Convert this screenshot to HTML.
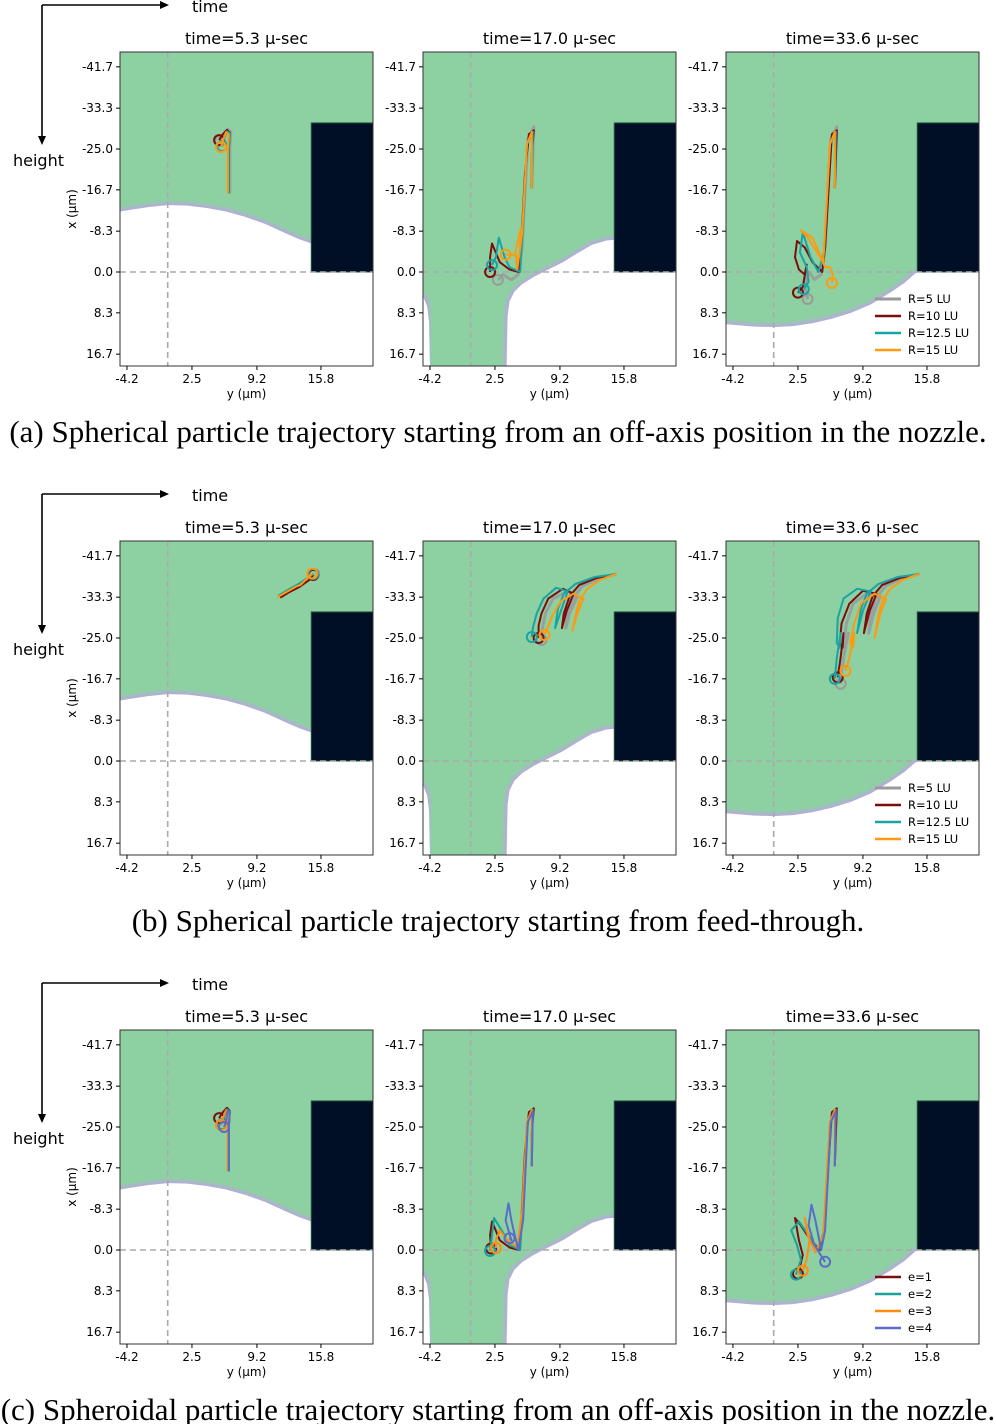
<!DOCTYPE html>
<html><head><meta charset="utf-8">
<style>
html,body{margin:0;padding:0;background:#fff;}
svg{display:block;}
text{font-family:"DejaVu Sans","Liberation Sans",sans-serif;}
.cap{font-family:"Liberation Serif",serif;font-size:31px;}
</style></head>
<body>
<svg id="fig" width="996" height="1424" viewBox="0 0 996 1424" xmlns="http://www.w3.org/2000/svg">
<defs><filter id="bl" x="-5%" y="-5%" width="110%" height="110%"><feGaussianBlur stdDeviation="1.6"/></filter></defs>
</svg>
<script>
// ---------- data ----------
const yTicks = [-41.7,-33.3,-25.0,-16.7,-8.3,0.0,8.3,16.7];
const xTicks = [-4.2,2.5,9.2,15.8];
const titles = ["time=5.3 \u03bc-sec","time=17.0 \u03bc-sec","time=33.6 \u03bc-sec"];
const captions = ["(a) Spherical particle trajectory starting from an off-axis position in the nozzle.",
 "(b) Spherical particle trajectory starting from feed-through.",
 "(c) Spheroidal particle trajectory starting from an off-axis position in the nozzle."];
const legendA = ["R=5 LU","R=10 LU","R=12.5 LU","R=15 LU"];
const legendC = ["e=1","e=2","e=3","e=4"];
const colorsA = ["#9a9a9a","#7a0d0d","#1aa3a3","#ff9a10"];
const colorsC = ["#7a0d0d","#17a39a","#ff8c10","#5a6cc8"];
// fluid boundaries (white region) in [y, x] micrometres
const wall1 = [[-4.9,-12.3],[-2,-13.2],[0,-13.6],[2,-13.5],[4,-13],[6,-12.3],[8,-11.2],[10,-9.8],[12,-8],[13.5,-6.7],[14.8,-5.8],[14.8,0],[21.3,0],[21.3,19.6],[-4.9,19.6]];
const wall2 = [[15.2,-6.6],[14,-6.4],[12.5,-5.5],[11,-3.8],[9.5,-2],[8,-0.5],[6.5,1],[5.3,2.5],[4.5,4],[4,6],[3.8,9],[3.7,19.6],[21.3,19.6],[21.3,0],[15.2,0]];
const wall2b = [[-4.9,5],[-4.5,7],[-4.3,10],[-4.2,19.6],[-4.9,19.6]];
const wall3 = [[-4.9,10.6],[-2,11.1],[0,11.2],[2,11],[4,10.4],[6,9.5],[8,8.3],[10,6.6],[12,4.2],[13.5,2.2],[14.6,0.3],[15,0],[21.3,0],[21.3,19.6],[-4.9,19.6]];
// trajectories row a
const a1 = [
 [[6.4,-16],[6.4,-25],[6.5,-28.5],[6.2,-29],[5.8,-27.8],[5.4,-26.6]],
 [[6.3,-16],[6.3,-25],[6.4,-28.3],[6.1,-28.9],[5.6,-27.8],[5.3,-26.8]],
 [[6.3,-16],[6.3,-25],[6.4,-28.2],[6.1,-28.6],[5.8,-27.0],[5.6,-25.6]],
 [[6.2,-16],[6.2,-25],[6.3,-28.0],[6.0,-28.4],[5.7,-26.8],[5.5,-25.4]]];
const a2 = [
 [[6.3,-17],[6.5,-29.5],[5.9,-27],[5.3,-5],[4.9,0.5],[4.2,1.6],[3.3,0.5],[2.8,1.6]],
 [[6.3,-17],[6.3,-24],[6.5,-28.8],[6.0,-28],[5.6,-20],[5.2,-5],[5.0,0],[4,-0.5],[3,-2],[2.2,-5.8],[2.0,-3],[2.0,0]],
 [[6.3,-17],[6.4,-28.5],[5.8,-26],[5.4,-10],[5.1,0],[4,-1],[3.5,-3],[2.9,-7],[2.6,-3],[2.2,-1.4]],
 [[6.3,-17],[6.3,-28.5],[5.8,-26],[5.3,-8],[4.8,-0.5],[4.6,-4],[5.2,-9],[5.0,-3],[4.3,-3.5],[3.6,-3.5]]];
const a3 = [
 [[6.3,-17],[6.5,-29.5],[5.9,-27],[5.3,-5],[4.9,0.5],[4.2,1.5],[3.6,0],[3.2,3],[3.5,5.5]],
 [[6.3,-17],[6.5,-28.8],[6.0,-28],[5.3,-5],[5,0],[4,-2],[3.2,-5],[2.4,-6.3],[2.2,-3],[2.6,-0.5],[3.2,0.5],[3.4,-1.5],[3.0,3],[2.5,4.2]],
 [[6.3,-17],[6.4,-28.5],[5.8,-26],[5.2,-4],[4.6,0],[3.8,-3],[3.0,-8],[2.7,-4],[3.4,-1],[3.6,2],[3.1,3.5]],
 [[6.3,-17],[6.3,-28.5],[5.8,-26],[5.1,-2],[4,-7],[2.8,-8.5],[3.5,-7],[4.8,-3],[5.3,-1],[5.8,-1],[6.1,0.5],[6.0,2.2]]];
// trajectories row b
const b1 = [
 [[11.5,-33.4],[12.5,-34.5],[13.5,-35.6],[14.5,-37],[15.1,-38]],
 [[11.6,-33.2],[12.6,-34.4],[13.6,-35.4],[14.6,-36.8],[15.0,-37.8]],
 [[11.4,-33.6],[12.4,-34.8],[13.4,-35.9],[14.4,-37.2],[15.0,-38]],
 [[11.3,-33.3],[12.3,-34.4],[13.3,-35.5],[13.7,-35.8],[14.9,-38.1]]];
const b2 = [
 [[15,-38],[13,-37],[11.5,-35.5],[10.5,-33],[10,-30],[9.8,-27],[10.2,-30],[11,-33.5],[10,-34.5],[8.5,-33],[7.7,-30],[7.4,-27],[7.3,-24.6]],
 [[15,-38],[13,-37.2],[11.2,-35.8],[10.2,-33.5],[9.6,-30],[9.4,-27],[9.9,-30.5],[10.6,-34],[9.5,-35],[8,-33],[7.3,-30],[7.0,-27.5],[7.0,-25]],
 [[15,-38],[12.8,-37.4],[10.8,-36],[9.6,-34],[9.0,-31],[8.7,-27],[9.3,-30.5],[10,-34.5],[8.8,-35.2],[7.5,-33],[6.8,-30],[6.4,-27],[6.3,-25.2]],
 [[15,-38],[13.3,-36.8],[12,-35],[11.2,-32.5],[10.8,-29.5],[10.5,-26.5],[11,-30],[11.6,-33],[10.6,-34],[9.3,-32.5],[8.4,-29.5],[7.9,-27],[7.6,-25.6]]];
const b3 = [
 [[15,-38],[13,-37],[11.5,-35.5],[10.5,-33],[10,-30],[9.8,-26],[10.3,-30],[11,-33.5],[9.6,-34],[8.2,-32],[7.5,-28],[7.2,-24],[7.4,-23],[7.7,-26],[7.3,-22],[7.0,-18],[6.9,-15.7]],
 [[15,-38],[13,-37.2],[11.2,-35.8],[10.2,-33.5],[9.6,-30],[9.3,-26],[9.9,-30.5],[10.6,-34],[9.2,-34.6],[7.8,-32],[7.0,-28],[6.8,-24],[7.1,-23],[7.2,-26],[6.9,-21],[6.6,-17]],
 [[15,-38],[12.8,-37.4],[10.8,-36],[9.6,-34],[9.0,-31],[8.6,-26],[9.2,-30.5],[10,-34.5],[8.6,-35],[7.2,-33],[6.6,-29],[6.5,-24],[6.8,-23],[6.9,-26],[6.5,-21],[6.3,-16.7]],
 [[15,-38],[13.3,-36.8],[12,-35],[11.2,-32.5],[10.8,-29.5],[10.4,-25],[11,-30],[11.6,-33],[10.4,-34],[9,-32],[8.3,-28],[7.9,-24],[8.2,-23],[8.3,-26],[7.8,-21],[7.4,-18.3]]];
// trajectories row c
const c1 = [
 [[6.3,-16],[6.3,-25],[6.4,-28.3],[6.1,-28.9],[5.6,-27.8],[5.3,-26.8]],
 [[6.3,-16],[6.3,-25],[6.4,-28.2],[6.1,-28.6],[5.8,-27.0],[5.6,-25.6]],
 [[6.2,-16],[6.2,-25],[6.3,-28.0],[6.0,-28.4],[5.7,-26.8],[5.5,-25.4]],
 [[6.3,-16],[6.3,-25],[6.4,-28.0],[6.2,-28.4],[6.0,-26],[5.8,-25]]];
const c2 = [
 [[6.3,-17],[6.3,-24],[6.5,-28.8],[6.0,-28],[5.6,-20],[5.2,-5],[5.0,0],[4,-0.5],[3,-2],[2.2,-5.8],[2.0,-3],[2.1,-0.3]],
 [[6.3,-17],[6.4,-28.5],[5.8,-26],[5.4,-10],[5.1,0],[4,-1],[3.5,-3],[2.4,-6.5],[2.2,-3],[2.0,0.2]],
 [[6.3,-17],[6.3,-28.5],[5.8,-26],[5.3,-8],[4.8,-0.5],[3.8,-2],[3.0,-4],[2.6,-2],[2.6,-0.4]],
 [[6.3,-17],[6.4,-28.2],[5.9,-26],[5.4,-6],[4.9,0],[4.2,-6],[3.9,-9.5],[3.6,-6],[4.2,-2],[4.0,-2.4]]];
const c3 = [
 [[6.3,-17],[6.5,-28.8],[6.0,-28],[5.2,-4],[4.8,0],[3.8,-2],[2.8,-5],[2.2,-6.5],[2.6,-2],[3.0,1],[2.7,3.5],[2.5,4.8]],
 [[6.3,-17],[6.4,-28.5],[5.8,-26],[5.2,-4],[4.6,0],[3.6,-3],[2.6,-5.8],[1.8,-4],[2.4,-1],[2.8,2],[2.3,5]],
 [[6.3,-17],[6.3,-28.5],[5.8,-26],[5.1,-3],[4.3,0.5],[3.5,-3],[3.2,-6.5],[3.7,-2],[3.4,2],[3.0,4.2]],
 [[6.3,-17],[6.4,-28.2],[5.9,-26],[5.3,-4],[4.9,0],[4.3,-6],[3.9,-9.2],[3.6,-5],[4.2,-1],[5.0,1.5],[5.3,2.4]]];

// ---------- drawing ----------
const NS="http://www.w3.org/2000/svg";
const svg=document.getElementById('fig');
function mk(tag,attrs,parent){const e=document.createElementNS(NS,tag);for(const k in attrs)e.setAttribute(k,attrs[k]);(parent||svg).appendChild(e);return e;}
function txt(s,x,y,size,anchor,parent,cls){const t=mk('text',{x:x,y:y,'font-size':size,'text-anchor':anchor||'start',fill:'#000'},parent);if(cls)t.setAttribute('class',cls);t.textContent=s;return t;}

const W=253,H=314;
const rowTops=[52,541,1030];
const colLefts=[120,423,726];
function sx(L,y){return L+47.7+y*9.7;}
function sy(T,x){return T+220+x*4.92;}

const walls=[[wall1],[wall2,wall2b],[wall3]];
const trajs=[[a1,a2,a3],[b1,b2,b3],[c1,c2,c3]];

rowTops.forEach((T,r)=>{
  const ar=mk('g',{});
  
  
  const ay=T-47;
  mk('line',{x1:42,y1:ay,x2:162,y2:ay,stroke:'#000','stroke-width':1.6},ar);
  mk('polygon',{points:`169,${ay} 160,${ay-4} 160,${ay+4}`,fill:'#000'},ar);
  mk('line',{x1:42,y1:ay,x2:42,y2:ay+132,stroke:'#000','stroke-width':1.6},ar);
  mk('polygon',{points:`42,${ay+140} 38,${ay+131} 46,${ay+131}`,fill:'#000'},ar);
  txt('time',192,ay+7,16,'start',ar);
  txt('height',13,ay+161,16,'start',ar);
  const cap=txt(captions[r],498,T+390,31,'middle',null,'cap');
  
  

  colLefts.forEach((L,c)=>{
    const g=mk('g',{});
    
    
    const cid='clip'+r+c;
    const cp=mk('clipPath',{id:cid},g);mk('rect',{x:L,y:T,width:W,height:H},cp);
    const inner=mk('g',{'clip-path':`url(#${cid})`},g);
    const bg=mk('rect',{x:L,y:T,width:W,height:H,fill:'#8dd1a2'},inner);
    
    
    walls[c].forEach(poly=>{
      const d='M'+poly.map(p=>sx(L,p[0]).toFixed(1)+','+sy(T,p[1]).toFixed(1)).join('L')+'Z';
      mk('path',{d:d,fill:'#fff',stroke:'#b4acd8','stroke-width':6,'stroke-linejoin':'round',filter:'url(#bl)'},inner);
      const w=mk('path',{d:d,fill:'#fff','stroke-linejoin':'round'},inner);
      
      
    });
    const nz=mk('rect',{x:sx(L,14.8),y:sy(T,-30.3),width:80,height:sy(T,0)-sy(T,-30.3),fill:'#000f26',stroke:'#1d5a3a','stroke-width':1},inner);
    
    
    mk('line',{x1:sx(L,0),y1:T,x2:sx(L,0),y2:T+H,stroke:'#aaa','stroke-width':1.6,'stroke-dasharray':'6,4'},inner);
    mk('line',{x1:L,y1:sy(T,0),x2:L+W,y2:sy(T,0),stroke:'#aaa','stroke-width':1.6,'stroke-dasharray':'6,4'},inner);
    const cols = r===2?colorsC:colorsA;
    trajs[r][c].forEach((pts,i)=>{
      const d='M'+pts.map(p=>sx(L,p[0]).toFixed(1)+','+sy(T,p[1]).toFixed(1)).join('L');
      const ln=mk('path',{d:d,fill:'none',stroke:cols[i],'stroke-width':(r!==2&&i===0)?3:2,'stroke-linejoin':'round','stroke-opacity':(r!==2&&i===0)?0.85:1},inner);
      
      
      const e=pts[pts.length-1];
      const ci=mk('circle',{cx:sx(L,e[0]),cy:sy(T,e[1]),r:5,fill:'none',stroke:cols[i],'stroke-width':2},inner);
      
      
    });
    mk('rect',{x:L,y:T,width:W,height:H,fill:'none',stroke:'#333','stroke-width':1},g);
    yTicks.forEach(v=>{
      const y=sy(T,v);
      mk('line',{x1:L-4,y1:y,x2:L,y2:y,stroke:'#000','stroke-width':1},g);
      txt(v.toFixed(1),L-7,y+4,12,'end',g);
    });
    xTicks.forEach(v=>{
      const x=sx(L,v);
      mk('line',{x1:x,y1:T+H,x2:x,y2:T+H+4,stroke:'#000','stroke-width':1},g);
      txt(v.toFixed(1),x,T+H+17,12,'middle',g);
    });
    const xl=txt('y (\u03bcm)',L+W/2,T+H+32,12,'middle',g);
    
    
    const tt=txt(titles[c],L+W/2,T-8,16,'middle',g);
    
    
    if(c===0){
      const yl=txt('x (\u03bcm)',0,0,12,'middle',g);
      yl.setAttribute('transform',`translate(${L-44},${T+157}) rotate(-90)`);
      
      
    }
    if(c===2){
      const lg=mk('g',{},g);
      
      
      const labs=r===2?legendC:legendA;
      labs.forEach((s,i)=>{
        const yy=T+247+i*17;
        mk('line',{x1:L+149,y1:yy,x2:L+175,y2:yy,stroke:cols[i],'stroke-width':(r!==2&&i===0)?3:2.5},lg);
        txt(s,L+182,yy+4,11.5,'start',lg);
      });
    }
  });
});
</script>
</body></html>
